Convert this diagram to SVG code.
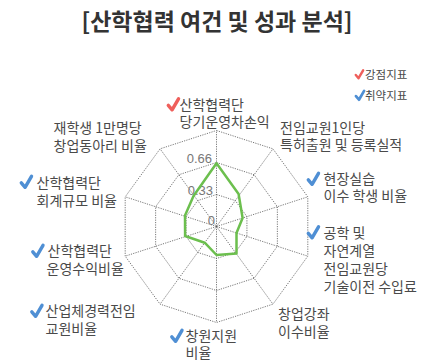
<svg xmlns="http://www.w3.org/2000/svg" width="426" height="362" viewBox="0 0 426 362">
<style>
.t{font-family:"Noto Sans CJK KR","Noto Sans",sans-serif;font-size:14px;fill:#4a4a4a}
.title{font-family:"Noto Sans CJK KR","Noto Sans",sans-serif;font-size:23px;font-weight:bold;fill:#333}
.lg{font-family:"Noto Sans CJK KR","Noto Sans",sans-serif;font-size:11.5px;fill:#4a4a4a}
.num{font-family:"Liberation Sans",Arial,sans-serif;font-size:13px;fill:#777;text-anchor:end}
.grid{fill:none;stroke:#555;stroke-width:0.8;stroke-dasharray:1.2 1.2}
.data{fill:none;stroke:#6cbf4e;stroke-width:2.5;stroke-linejoin:round}
.ck{fill:none;stroke-width:3.4;stroke-linecap:round;stroke-linejoin:round}
</style>
<defs>
<path id="chk" d="M1.8,8.3 L5.6,12.8 L12,1.8"/>
</defs>
<text class="title" x="217" y="29.5" text-anchor="middle">[산학협력 여건 및 성과 분석]</text>
<g id="legend">
<use href="#chk" class="ck" stroke="#ef5f5b" transform="translate(354.5,69) scale(0.72)"/>
<text class="lg" x="365" y="79">강점지표</text>
<use href="#chk" class="ck" stroke="#4f8fd4" transform="translate(354.5,89.5) scale(0.8)"/>
<text class="lg" x="365" y="100">취약지표</text>
</g>
<g id="grid">
<polygon class="grid" points="216.5,130.5 272.93,148.83 307.8,196.83 307.8,256.17 272.93,304.17 216.5,322.5 160.07,304.17 125.2,256.17 125.2,196.83 160.07,148.83"/>
<polygon class="grid" points="216.5,162.5 254.12,174.72 277.37,206.72 277.37,246.28 254.12,278.28 216.5,290.5 178.88,278.28 155.63,246.28 155.63,206.72 178.88,174.72"/>
<polygon class="grid" points="216.5,194.5 235.31,200.61 246.93,216.61 246.93,236.39 235.31,252.39 216.5,258.5 197.69,252.39 186.07,236.39 186.07,216.61 197.69,200.61"/>
<path class="grid" d="M216.5,226.5 L216.5,130.5 M216.5,226.5 L272.93,148.83 M216.5,226.5 L307.8,196.83 M216.5,226.5 L307.8,256.17 M216.5,226.5 L272.93,304.17 M216.5,226.5 L216.5,322.5 M216.5,226.5 L160.07,304.17 M216.5,226.5 L125.2,256.17 M216.5,226.5 L125.2,196.83 M216.5,226.5 L160.07,148.83"/>
</g>
<g id="scale">
<text class="num" x="212" y="163">0.66</text>
<text class="num" x="213" y="195">0.33</text>
<text class="num" x="215" y="225">0</text>
</g>
<g id="series">
<polygon class="data" points="216.5,163.3 238.6,194 242.6,218 236.5,233 236.5,253.5 216.5,255 204.7,242.7 185.1,236 185,215.5 193.5,196"/>
</g>
<g id="label-0">
<use href="#chk" class="ck" stroke="#ef5f5b" transform="translate(166.5,97)"/>
<text class="t" x="179.5" y="110">산학협력단<tspan x="179.5" dy="17">당기운영차손익</tspan></text>
</g>
<g id="label-1">
<text class="t" x="280" y="133">전임교원1인당<tspan x="280" dy="17">특허출원 및 등록실적</tspan></text>
</g>
<g id="label-2">
<use href="#chk" class="ck" stroke="#4f8fd4" transform="translate(306.5,171.5)"/>
<text class="t" x="323.5" y="184">현장실습<tspan x="323.5" dy="17">이수 학생 비율</tspan></text>
</g>
<g id="label-3">
<use href="#chk" class="ck" stroke="#4f8fd4" transform="translate(306.5,225)"/>
<text class="t" x="323.5" y="238">공학 및<tspan x="323.5" dy="18">자연계열</tspan><tspan x="323.5" dy="18">전임교원당</tspan><tspan x="323.5" dy="18">기술이전 수입료</tspan></text>
</g>
<g id="label-4">
<text class="t" x="278" y="319">창업강좌<tspan x="278" dy="18">이수비율</tspan></text>
</g>
<g id="label-5">
<use href="#chk" class="ck" stroke="#4f8fd4" transform="translate(170,328.5)"/>
<text class="t" x="185.5" y="341">창원지원<tspan x="185.5" dy="17">비율</tspan></text>
</g>
<g id="label-6">
<use href="#chk" class="ck" stroke="#4f8fd4" transform="translate(30,303.5)"/>
<text class="t" x="45.5" y="316">산업체경력전임<tspan x="45.5" dy="18">교원비율</tspan></text>
</g>
<g id="label-7">
<use href="#chk" class="ck" stroke="#4f8fd4" transform="translate(31,243.5)"/>
<text class="t" x="47.5" y="256">산학협력단<tspan x="46.5" dy="18">운영수익비율</tspan></text>
</g>
<g id="label-8">
<use href="#chk" class="ck" stroke="#4f8fd4" transform="translate(19.5,174.5)"/>
<text class="t" x="36.5" y="188">산학협력단<tspan x="36.5" dy="18">회계규모 비율</tspan></text>
</g>
<g id="label-9">
<text class="t" x="53.5" y="133">재학생 1만명당<tspan x="53.5" dy="18">창업동아리 비율</tspan></text>
</g>
</svg>
